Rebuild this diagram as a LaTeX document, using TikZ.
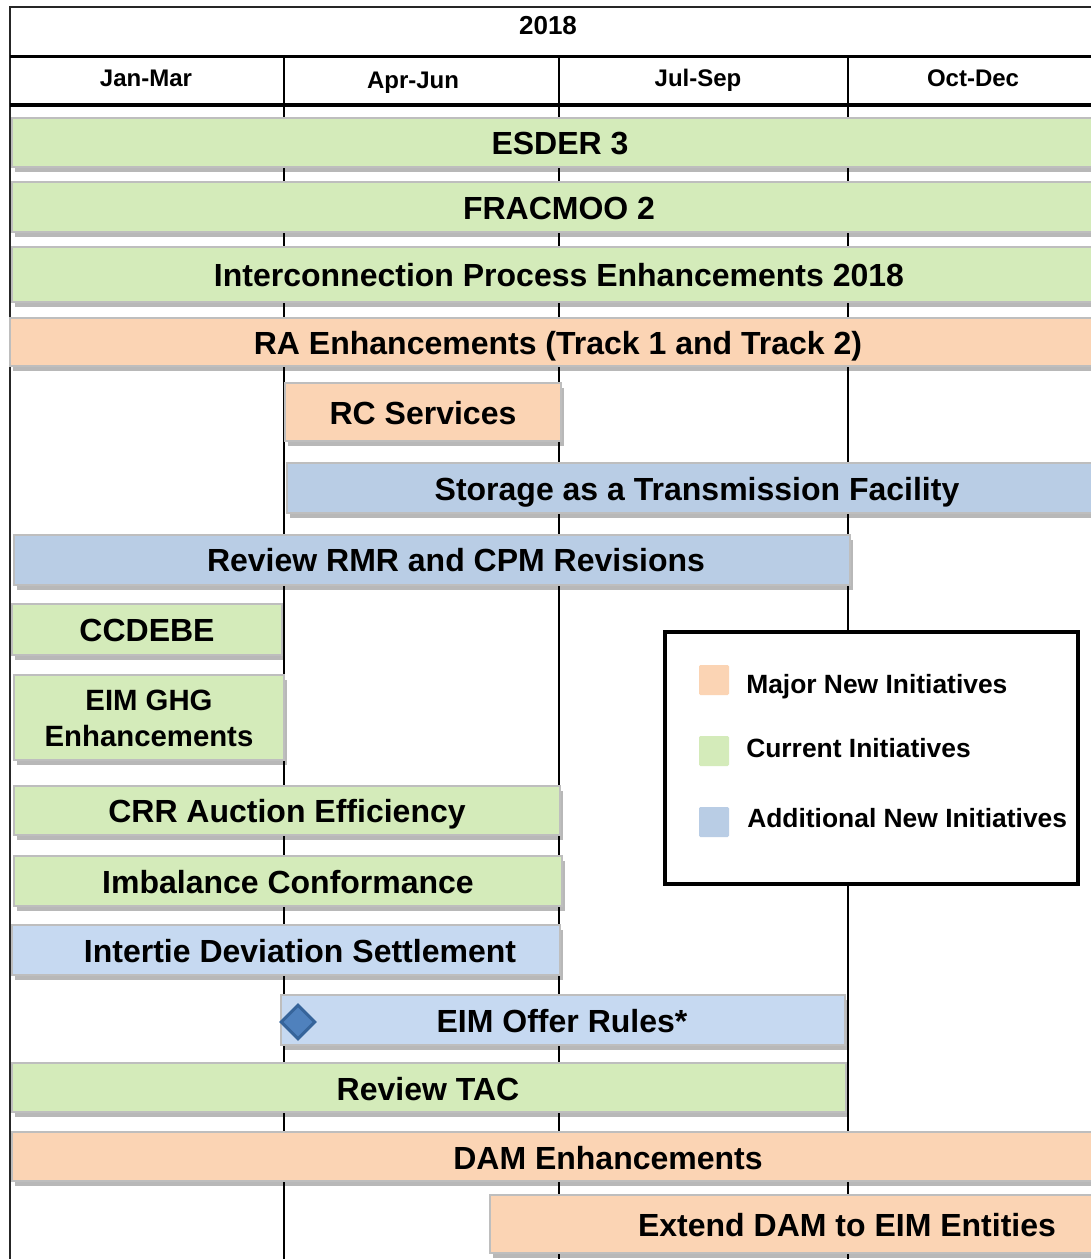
\documentclass[tikz,border=0pt]{standalone}
\usepackage{fontspec}
\setmainfont{Liberation Sans}
\usetikzlibrary{shadows,fit,shapes.geometric}
\definecolor{cgreen}{HTML}{D4EBBA}
\definecolor{corange}{HTML}{FBD4B4}
\definecolor{cblue}{HTML}{B9CDE5}
\definecolor{cblueL}{HTML}{C6D9F1}
\definecolor{barline}{HTML}{BEBEBE}
\definecolor{dmfill}{HTML}{4F81BD}
\definecolor{dmline}{HTML}{36649A}
\tikzset{
  x=0.75pt, y=-0.75pt,
  barbox/.style={draw=barline, line width=1.4pt, inner sep=0pt, outer sep=0pt,
    drop shadow={shadow xshift=2.5pt, shadow yshift=-4pt, fill=black, opacity=0.28}},
  bartext/.style={font=\fontsize{24}{27}\selectfont\bfseries, inner sep=0pt, anchor=base},
  hdrtext/.style={font=\fontsize{18}{21}\selectfont\bfseries, inner sep=0pt, anchor=base},
  legtext/.style={font=\fontsize{19.8}{23}\selectfont\bfseries, inner sep=0pt, anchor=base west},
  swatch/.style={inner sep=0pt, rounded corners=1pt},
  gridline/.style={line width=1.6pt, black},
}
\begin{document}
\begin{tikzpicture}
\useasboundingbox (0,0) rectangle (1091,1259);
\fill[white] (0,0) rectangle (1091,1259);
% grid coordinates
\coordinate (tl) at (10,7);
\coordinate (tr) at (1100,7);
\coordinate (bl) at (10,1262);
\coordinate (h1l) at (10,56.5);
\coordinate (h1r) at (1100,56.5);
\coordinate (h2l) at (10,105.5);
\coordinate (h2r) at (1100,105.5);
\coordinate (v1t) at (284,56.5);
\coordinate (v1b) at (284,1262);
\coordinate (v2t) at (559,56.5);
\coordinate (v2b) at (559,1262);
\coordinate (v3t) at (848,56.5);
\coordinate (v3b) at (848,1262);
\draw[line width=1.1pt, black!85] (bl) -- (tl) -- (tr);
\draw[gridline] (v1t) -- (v1b);
\draw[gridline] (v2t) -- (v2b);
\draw[gridline] (v3t) -- (v3b);
\draw[line width=2.4pt] (h1l) -- (h1r);
\draw[line width=3pt] (h2l) -- (h2r);
% header text
\node[hdrtext, font=\fontsize{19.5}{22}\selectfont\bfseries] (y2018) at (548,35) {2018};
\node[hdrtext] (q1) at (146,87) {Jan-Mar};
\node[hdrtext] (q2) at (413,89) {Apr-Jun};
\node[hdrtext] (q3) at (698,87) {Jul-Sep};
\node[hdrtext] (q4) at (973,87) {Oct-Dec};
% bars
\node[barbox, fill=cgreen, fit={(12,118) (1110,167)}] (b1) {};
\node[barbox, fill=cgreen, fit={(12,182) (1110,232)}] (b2) {};
\node[barbox, fill=cgreen, fit={(12,247) (1110,302)}] (b3) {};
\node[barbox, fill=corange, fit={(10,318) (1110,366)}] (b4) {};
\node[barbox, fill=corange, fit={(285,383) (561,441)}] (b5) {};
\node[barbox, fill=cblue, fit={(287,463) (1110,513)}] (b6) {};
\node[barbox, fill=cblue, fit={(14,535) (850,585)}] (b7) {};
\node[barbox, fill=cgreen, fit={(12,604) (282,655)}] (b8) {};
\node[barbox, fill=cgreen, fit={(14,675) (284,760)}] (b9) {};
\node[barbox, fill=cgreen, fit={(14,786) (560,835)}] (b10) {};
\node[barbox, fill=cgreen, fit={(14,856) (562,906)}] (b11) {};
\node[barbox, fill=cblueL, fit={(12,925) (560,975)}] (b12) {};
\node[barbox, fill=cblueL, fit={(281,995) (845,1045)}] (b13) {};
\node[barbox, fill=cgreen, fit={(12,1063) (846,1112)}] (b14) {};
\node[barbox, fill=corange, fit={(12,1132) (1110,1181)}] (b15) {};
\node[barbox, fill=corange, fit={(490,1195) (1110,1253)}] (b16) {};
% bar texts
\node[bartext] (t1) at (560,155) {ESDER 3};
\node[bartext] (t2) at (559,219) {FRACMOO 2};
\node[bartext] (t3) at (559,286) {Interconnection Process Enhancements 2018};
\node[bartext] (t4) at (558,354) {RA Enhancements (Track 1 and Track 2)};
\node[bartext] (t5) at (423,424) {RC Services};
\node[bartext] (t6) at (697,500) {Storage as a Transmission Facility};
\node[bartext] (t7) at (456,571) {Review RMR and CPM Revisions};
\node[bartext] (t8) at (147,641) {CCDEBE};
\node[bartext, anchor=center, align=center, font=\fontsize{22}{27}\selectfont\bfseries] (t9) at (149,718) {EIM GHG\\Enhancements};
\node[bartext] (t10) at (287,822) {CRR Auction Efficiency};
\node[bartext] (t11) at (288,893) {Imbalance Conformance};
\node[bartext] (t12) at (300,962) {Intertie Deviation Settlement};
\node[bartext] (t13) at (562,1032) {EIM Offer Rules*};
\node[bartext] (t14) at (428,1100) {Review TAC};
\node[bartext] (t15) at (608,1169) {DAM Enhancements};
\node[bartext] (t16) at (847,1236) {Extend DAM to EIM Entities};
% milestone diamond
\node[diamond, fill=dmfill, draw=dmline, line width=2.2pt, minimum width=26pt, minimum height=26pt, inner sep=0pt] (dm) at (298,1022) {};
% legend
\node[draw=black, line width=3pt, fill=white, inner sep=0pt, fit={(665,632) (1078,884)}] (leg) {};
\node[swatch, fill=corange, fit={(699,665) (729,695)}] (s1) {};
\node[swatch, fill=cgreen, fit={(699,736) (729,766)}] (s2) {};
\node[swatch, fill=cblue, fit={(699,807) (729,837)}] (s3) {};
\node[legtext] (l1) at (746,693) {Major New Initiatives};
\node[legtext] (l2) at (746,757) {Current Initiatives};
\node[legtext] (l3) at (747,827) {Additional New Initiatives};
\end{tikzpicture}
\end{document}
